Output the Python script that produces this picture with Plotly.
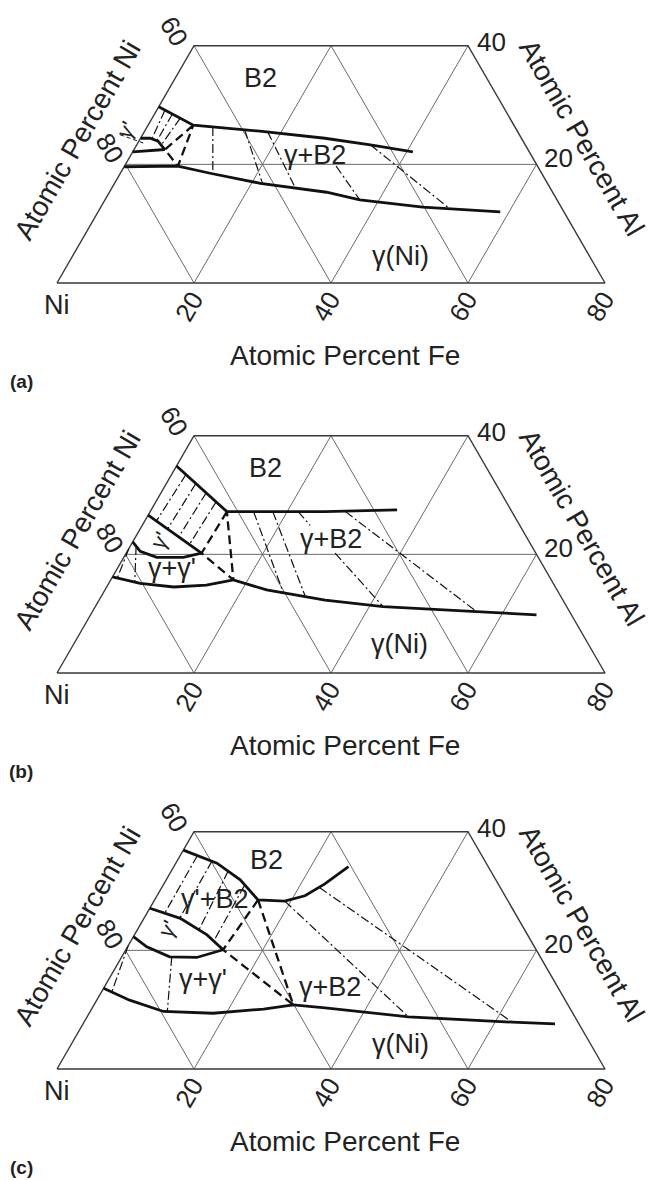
import numpy as np
import plotly.graph_objects as go

# ---------------- page geometry (layout only) ----------------
W, H = 650, 1180
PX = 6.85            # pixels per at.% along an edge
X0 = 57              # pixel x of the Ni corner
BOT = [283, 673, 1069]                  # pixel y of the Fe axis in each panel
BAND = [(0, 392), (392, 785), (785, 1180)]
SQ = np.sqrt(3) / 2

# ---------------- axes / tick labels ----------------
panel_tags = ["(a)", "(b)", "(c)"]
fe_ticks = [20, 40, 60, 80]
ni_ticks = ["60", "80"]        # on the left edge at Al = 40, 20
al_ticks = ["40", "20"]        # on the right edge at Al = 40, 20
grid_fe = [20, 40, 60]         # lines of constant Fe
grid_ni = [80, 60, 40]         # lines of constant Ni
grid_al = [20]                 # lines of constant Al

# ---------------- panel (a) ----------------
a_b2_fe = [0, 6.6, 16.8, 26.9, 34.1, 40.9]
a_b2_al = [29.7, 26.6, 25.6, 24.4, 23.3, 22.1]
a_gam_fe = [0, 7.8, 13.1, 21.3, 31.7, 37.2, 47.0, 58.7]
a_gam_al = [19.6, 19.7, 18.5, 16.8, 15.3, 14.0, 12.8, 12.0]
a_gp_top_fe = [0, 1.4, 2.8, 4.5]
a_gp_top_al = [24.4, 24.4, 23.9, 22.5]
a_gp_bot_fe = [0, 2.5, 4.5]
a_gp_bot_al = [22.1, 22.3, 22.5]
a_tri_fe = [6.6, 4.5, 7.8, 6.6]
a_tri_al = [26.6, 22.5, 19.7, 26.6]
a_tie1_fe = [[1.2, 1.7], [2.6, 2.6], [4.1, 3.6]]
a_tie1_al = [[29.1, 24.3], [28.5, 24.0], [27.8, 23.4]]
a_tie2_fe = [[9.6, 13.5], [14.5, 21.6], [18.0, 26.8], [30.9, 37.2], [34.1, 51.1]]
a_tie2_al = [[26.3, 18.5], [25.8, 16.8], [25.5, 16.0], [19.7, 14.0], [23.3, 12.5]]
a_lead_fe = [-3.3, 0.8]
a_lead_al = [25.0, 23.6]
a_lab_txt = ["B2", "γ+B2", "γ(Ni)", "γ'"]
a_lab_fe = [12.4, 26.9, 47.8, -2.7]
a_lab_al = [34.6, 21.6, 4.6, 25.8]
a_lab_rot = [0, 0, 0, -60]

# ---------------- panel (b) ----------------
b_b2_fe = [0, 11.2, 16.0, 25.5, 35.9]
b_b2_al = [34.9, 27.2, 27.2, 27.2, 27.5]
b_gam_fe = [0, 4.6, 9.8, 14.4, 17.9, 23.6, 33.0, 42.0, 56.8, 65.1]
b_gam_al = [16.2, 15.1, 14.5, 14.8, 15.7, 14.0, 12.3, 11.2, 10.3, 9.8]
b_gp_top_fe = [0, 11.0]
b_gp_top_al = [26.6, 20.2]
b_gp_bot_fe = [0, 1.9, 4.8, 8.7, 11.0]
b_gp_bot_al = [22.1, 20.5, 19.5, 19.5, 20.2]
b_tri_fe = [11.2, 11.0, 17.9, 11.2]
b_tri_al = [27.2, 20.2, 15.7, 27.2]
b_tie1_fe = [[2.1, 1.7], [4.3, 4.0], [6.6, 6.3], [8.8, 8.5]]
b_tie1_al = [[33.5, 25.6], [31.9, 24.3], [30.4, 22.9], [28.8, 21.7]]
b_tie2_fe = [[0, 0.8], [0.85, 3.7]]
b_tie2_al = [[21.0, 16.0], [21.4, 15.3]]
b_tie3_fe = [[15.1, 26.3], [17.9, 29.8], [21.6, 24.5], [30.5, 42.0], [28.5, 56.0]]
b_tie3_al = [[27.2, 13.5], [27.2, 12.9], [27.2, 24.9], [20.2, 11.2], [27.2, 10.4]]
b_lab_txt = ["B2", "γ'", "γ+γ'", "γ+B2", "γ(Ni)"]
b_lab_fe = [13.2, 3.8, 7.9, 28.7, 47.6]
b_lab_al = [34.6, 22.4, 17.7, 22.6, 4.9]
b_lab_rot = [0, -60, 0, 0, 0]

# ---------------- panel (c) ----------------
c_b2_fe = [0, 6.0, 10.8, 15.1, 19.1, 21.6, 23.5, 25.5]
c_b2_al = [36.9, 34.7, 31.9, 28.5, 28.3, 29.2, 31.2, 34.1]
c_gam_fe = [0, 4.8, 10.7, 18.1, 25.1, 29.1, 34.0, 46.9, 62.5, 68.9]
c_gam_al = [13.6, 11.6, 9.7, 9.4, 10.1, 10.8, 10.3, 8.8, 7.9, 7.6]
c_gp_top_fe = [0, 5.3, 10.6, 14.2]
c_gp_top_al = [27.1, 25.4, 22.6, 20.1]
c_gp_bot_fe = [0, 2.8, 7.0, 11.0, 14.2]
c_gp_bot_al = [22.3, 20.6, 18.9, 18.8, 20.1]
c_tri_fe = [15.1, 14.2, 29.1, 15.1]
c_tri_al = [28.5, 20.1, 10.8, 28.5]
c_tie1_fe = [[2.5, 2.6], [5.1, 5.2], [8.3, 9.0], [11.9, 12.1]]
c_tie1_al = [[36.0, 26.3], [35.1, 25.5], [33.4, 23.4], [30.9, 21.6]]
c_tie2_fe = [[0, 1.5], [7.3, 11.3]]
c_tie2_al = [[20.8, 13.0], [18.9, 9.6]]
c_tie3_fe = [[19.1, 46.9], [23.0, 62.5]]
c_tie3_al = [[28.3, 8.8], [30.6, 7.9]]
c_lab_txt = ["B2", "γ'+B2", "γ'", "γ+γ'", "γ+B2", "γ(Ni)"]
c_lab_fe = [13.0, 8.7, 4.3, 13.7, 32.9, 48.0]
c_lab_al = [35.2, 28.7, 23.6, 15.2, 13.8, 4.2]
c_lab_rot = [0, 0, -60, 0, 0, 0]

# ---------------- helpers ----------------
FONT = "Liberation Sans, Arial, Helvetica, sans-serif"
TXT = "#222222"


def to_xy(fe, al):
    fe = np.asarray(fe, float)
    al = np.asarray(al, float)
    return fe + al / 2.0, al * SQ


def segs(fe_pairs, al_pairs):
    xs, ys = [], []
    for f, a in zip(fe_pairs, al_pairs):
        x, y = to_xy(f, a)
        xs += list(x) + [None]
        ys += list(y) + [None]
    return xs, ys


fig = go.Figure()


def add_line(k, x, y, width, color="#111111", dash="solid"):
    fig.add_trace(go.Scatter(
        x=x, y=y, mode="lines", xaxis="x" if k == 0 else f"x{k+1}",
        yaxis="y" if k == 0 else f"y{k+1}",
        line=dict(color=color, width=width, dash=dash),
        hoverinfo="skip", showlegend=False))


panels = [
    dict(b2=(a_b2_fe, a_b2_al), gam=(a_gam_fe, a_gam_al),
         gpt=(a_gp_top_fe, a_gp_top_al), gpb=(a_gp_bot_fe, a_gp_bot_al),
         tri=(a_tri_fe, a_tri_al),
         ties=[(a_tie1_fe, a_tie1_al), (a_tie2_fe, a_tie2_al)],
         lead=(a_lead_fe, a_lead_al),
         labs=(a_lab_txt, a_lab_fe, a_lab_al, a_lab_rot)),
    dict(b2=(b_b2_fe, b_b2_al), gam=(b_gam_fe, b_gam_al),
         gpt=(b_gp_top_fe, b_gp_top_al), gpb=(b_gp_bot_fe, b_gp_bot_al),
         tri=(b_tri_fe, b_tri_al),
         ties=[(b_tie1_fe, b_tie1_al), (b_tie2_fe, b_tie2_al), (b_tie3_fe, b_tie3_al)],
         lead=None,
         labs=(b_lab_txt, b_lab_fe, b_lab_al, b_lab_rot)),
    dict(b2=(c_b2_fe, c_b2_al), gam=(c_gam_fe, c_gam_al),
         gpt=(c_gp_top_fe, c_gp_top_al), gpb=(c_gp_bot_fe, c_gp_bot_al),
         tri=(c_tri_fe, c_tri_al),
         ties=[(c_tie1_fe, c_tie1_al), (c_tie2_fe, c_tie2_al), (c_tie3_fe, c_tie3_al)],
         lead=None,
         labs=(c_lab_txt, c_lab_fe, c_lab_al, c_lab_rot)),
]

annotations = []
layout_axes = {}

for k, P in enumerate(panels):
    # ---- grid lines (constant Fe, Ni, Al) clipped to the 0..40 Al band ----
    gfe, gal = [], []
    for f in grid_fe:
        top = min(40, 80 - f)
        gfe.append([f, f]); gal.append([0, top])
    for n in grid_ni:
        s = 100 - n  # Fe + Al
        gfe.append([s, max(0, s - 40)]); gal.append([0, min(40, s)])
    for a in grid_al:
        gfe.append([0, 80 - a]); gal.append([a, a])
    gx, gy = segs(gfe, gal)
    add_line(k, gx, gy, 1.0, color="#6a6a6a")

    # ---- outer frame ----
    fx, fy = to_xy([0, 80, 40, 0, 0], [0, 0, 40, 40, 0])
    add_line(k, list(fx), list(fy), 1.4, color="#3a3a3a")

    # ---- tie lines ----
    for tf, ta in P["ties"]:
        tx, ty = segs(tf, ta)
        add_line(k, tx, ty, 1.2, dash="9px,3px,2px,3px")
    if P["lead"] is not None:
        lx, ly = to_xy(*P["lead"])
        add_line(k, list(lx), list(ly), 1.0, dash="4px,3px")

    # ---- three-phase triangle ----
    tx, ty = to_xy(*P["tri"])
    add_line(k, list(tx), list(ty), 2.3, dash="9px,5px")

    # ---- phase boundaries ----
    for key in ["b2", "gam", "gpt", "gpb"]:
        x, y = to_xy(*P[key])
        add_line(k, list(x), list(y), 2.8)

    xr = "x" if k == 0 else f"x{k+1}"
    yr = "y" if k == 0 else f"y{k+1}"

    def ann(fe, al, text, dx=0, dy=0, size=27, rot=0, bold=False):
        x, y = to_xy([fe], [al])
        annotations.append(dict(
            x=float(x[0]), y=float(y[0]), xref=xr, yref=yr, text=f"<b>{text}</b>" if bold else text,
            showarrow=False, xshift=dx, yshift=dy, textangle=rot,
            font=dict(family=FONT, size=size, color=TXT)))

    # region labels
    txts, lfe, lal, lrot = P["labs"]
    for t, f, a, r in zip(txts, lfe, lal, lrot):
        ann(f, a, t, size=(22 if t == "γ'" else 27), rot=r)

    # Fe axis
    ann(0, 0, "Ni", dx=0, dy=-22)
    for t in fe_ticks:
        ann(t, 0, str(t), dx=-5, dy=-24, rot=-60, size=26)
    ann(42.0, 0, "Atomic Percent Fe", dy=-72, size=28)
    # Ni (left edge)
    ann(0, 40, ni_ticks[0], dx=-20, dy=15, rot=60, size=26)
    ann(0, 20, ni_ticks[1], dx=-16, dy=16, rot=60, size=26)
    ann(0, 0, "Atomic Percent Ni", dx=20, dy=143, rot=-60, size=28)
    # Al (right edge)
    ann(40, 40, al_ticks[0], dx=23, dy=4, size=26)
    ann(60, 20, al_ticks[1], dx=22, dy=6, size=26)
    ann(80, 0, "Atomic Percent Al", dx=-23, dy=146, rot=60, size=28)
    # panel tag
    ann(0, 0, panel_tags[k], dx=-36, dy=-98, size=19, bold=True)

    # ---- axis ranges keeping PX pixels per unit ----
    p0, p1 = BAND[k]
    ybot = BOT[k]
    xname = "xaxis" if k == 0 else f"xaxis{k+1}"
    yname = "yaxis" if k == 0 else f"yaxis{k+1}"
    layout_axes[xname] = dict(domain=[0, 1], range=[-X0 / PX, (W - X0) / PX],
                              visible=False, anchor=yr, fixedrange=True)
    layout_axes[yname] = dict(domain=[1 - p1 / H, 1 - p0 / H],
                              range=[(ybot - p1) / PX, (ybot - p0) / PX],
                              visible=False, anchor=xr, fixedrange=True)

fig.update_layout(
    width=W, height=H, margin=dict(l=0, r=0, t=0, b=0),
    paper_bgcolor="white", plot_bgcolor="white",
    showlegend=False, annotations=annotations, **layout_axes)

fig.write_html("out.html", config={"displayModeBar": False},
               post_script="document.body.style.margin='0';")
